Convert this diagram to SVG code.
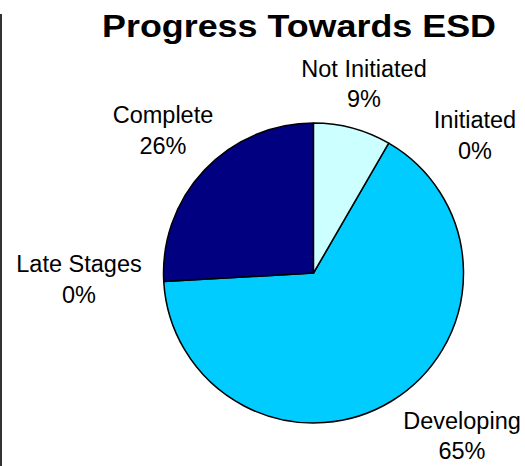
<svg xmlns="http://www.w3.org/2000/svg" width="525" height="466" viewBox="0 0 525 466">
<style>
.lbl{font-family:"Liberation Sans",Arial,sans-serif;font-size:23.5px;fill:#000;text-anchor:middle}
.ttl{font-family:"Liberation Sans",Arial,sans-serif;font-size:30.5px;font-weight:bold;fill:#000}
.sl{stroke:#000;stroke-width:1.5;stroke-linejoin:round}
</style>
<rect x="0" y="0" width="525" height="466" fill="#fff"/>
<line x1="1" y1="14" x2="1" y2="466" stroke="#333" stroke-width="2"/>
<text class="ttl" x="102" y="36.5" textLength="394" lengthAdjust="spacingAndGlyphs">Progress Towards ESD</text>
<g id="slices">
<g id="developing"><path class="sl" fill="#00CCFF" d="M313.5,273 L388.7,143.2 A150,150 0 1 1 163.75,281.6 Z"/></g>
<g id="complete"><path class="sl" fill="#000080" d="M313.5,273 L163.75,281.6 A150,150 0 0 1 313.5,123 Z"/></g>
<g id="not-initiated"><path class="sl" fill="#CCFFFF" d="M313.5,273 L313.5,123 A150,150 0 0 1 388.7,143.2 Z"/></g>
</g>
<g id="labels">
<g id="lbl-not-initiated"><text class="lbl" x="364" y="77">Not Initiated</text><text class="lbl" x="364" y="107">9%</text></g>
<g id="lbl-initiated"><text class="lbl" x="475" y="128">Initiated</text><text class="lbl" x="475" y="159">0%</text></g>
<g id="lbl-complete"><text class="lbl" x="163" y="123">Complete</text><text class="lbl" x="163" y="154">26%</text></g>
<g id="lbl-late"><text class="lbl" x="79" y="272">Late Stages</text><text class="lbl" x="79" y="303">0%</text></g>
<g id="lbl-developing"><text class="lbl" x="462" y="429">Developing</text><text class="lbl" x="462" y="459">65%</text></g>
</g>
</svg>
